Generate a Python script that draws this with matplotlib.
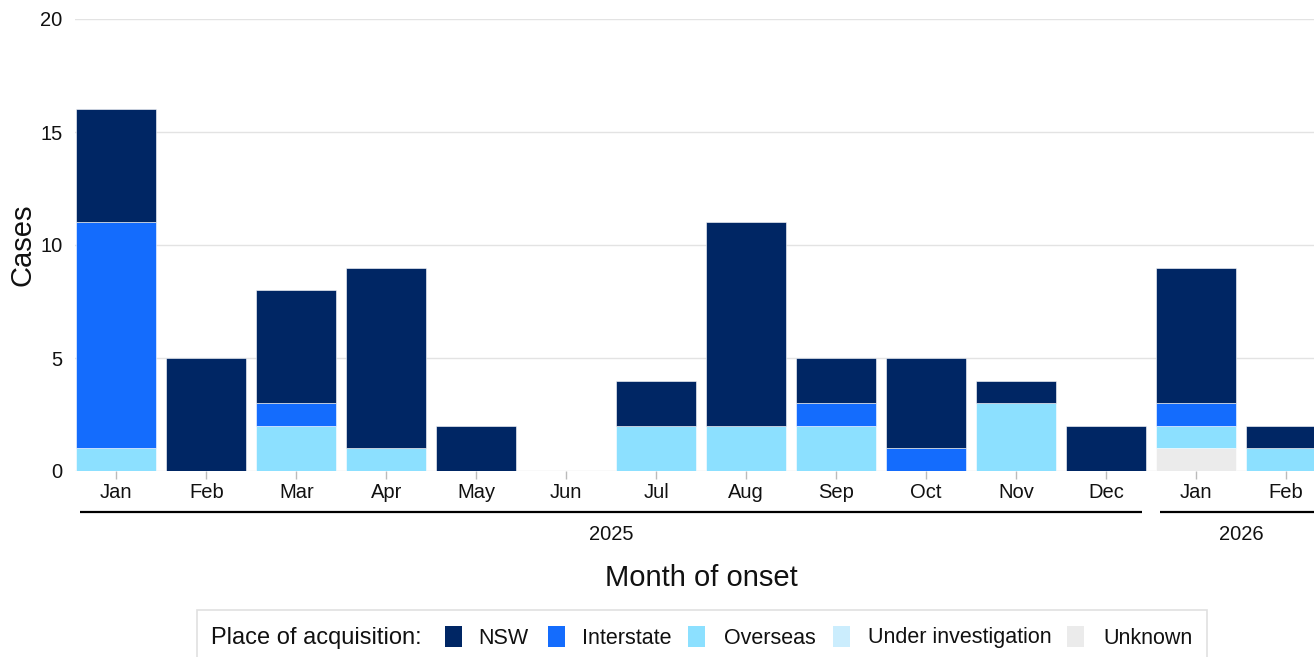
import matplotlib
matplotlib.use("Agg")
import matplotlib.pyplot as plt
from matplotlib.patches import Rectangle
import matplotlib.transforms as mtransforms
import numpy as np

plt.rcParams['font.family'] = ['Liberation Sans', 'DejaVu Sans']

months = ["Jan", "Feb", "Mar", "Apr", "May", "Jun", "Jul", "Aug", "Sep", "Oct", "Nov", "Dec", "Jan", "Feb"]
years = ["2025", "2026"]
year_spans = [(0, 11), (12, 13)]

categories = ["Unknown", "Under investigation", "Overseas", "Interstate", "NSW"]
unknown = [0, 0, 0, 0, 0, 0, 0, 0, 0, 0, 0, 0, 1, 0]
under_inv = [0, 0, 0, 0, 0, 0, 0, 0, 0, 0, 0, 0, 0, 0]
overseas = [1, 0, 2, 1, 0, 0, 2, 2, 2, 0, 3, 0, 1, 1]
interstate = [10, 0, 1, 0, 0, 0, 0, 0, 1, 1, 0, 0, 1, 0]
nsw = [5, 5, 5, 8, 2, 0, 2, 9, 2, 4, 1, 2, 6, 1]

colors = {"NSW": "#002664", "Interstate": "#146cfd", "Overseas": "#8ce0ff",
          "Under investigation": "#cbedfd", "Unknown": "#ebebeb"}

series = {"Unknown": unknown, "Under investigation": under_inv, "Overseas": overseas,
          "Interstate": interstate, "NSW": nsw}

W, H = 1314, 657
fig = plt.figure(figsize=(W / 100, H / 100), dpi=100)
ax = fig.add_axes([75 / W, 1 - 471 / H, 1 - 75 / W, (471 - 19) / H])

x = np.arange(len(months))
bottom = np.zeros(len(months))
for cat in categories:
    vals = np.array(series[cat], dtype=float)
    mask = vals > 0
    if mask.any():
        ax.bar(x[mask], vals[mask], bottom=bottom[mask], width=0.89, color=colors[cat],
               edgecolor="white", linewidth=0.4, zorder=3)
    bottom += vals

ax.set_xlim(-0.46, 13.31)
ax.set_ylim(0, 20)
ax.set_yticks([0, 5, 10, 15, 20])
ax.yaxis.grid(True, color="#e3e3e3", linewidth=1.0, zorder=0)
ax.set_axisbelow(True)
for s in ax.spines.values():
    s.set_visible(False)
ax.tick_params(axis="y", length=0, pad=9, labelsize=14.5, labelcolor="#111111")
ax.set_xticks(x)
ax.set_xticklabels(months)
ax.tick_params(axis="x", length=6, color="#bbbbbb", width=1, pad=3, labelsize=14.5, labelcolor="#111111")

trans = mtransforms.blended_transform_factory(ax.transData, ax.transAxes)
line_y = -41 / 452
lab_y = -63 / 452
for yr, (a, b) in zip(years, year_spans):
    ax.plot([a - 0.4, b + 0.4], [line_y, line_y], color="black", linewidth=1.6,
            transform=trans, clip_on=False, solid_capstyle="butt")
    ax.text((a + b) / 2, lab_y, yr, transform=trans, ha="center", va="center",
            fontsize=14.5, color="#111111")

fig.text(701 / W, 1 - 578 / H, "Month of onset", ha="center", va="center", fontsize=21, color="#111111")
fig.text(22 / W, 1 - 245 / H, "Cases", ha="center", va="center", rotation=90, fontsize=21, color="#111111")

# legend box
fig.patches.append(Rectangle((197 / W, 1 - 665 / H), (1207 - 197) / W, (665 - 610) / H,
                             transform=fig.transFigure, facecolor="white",
                             edgecolor="#e0e0e0", linewidth=1.2))
ly = 1 - 638 / H
fig.text(211 / W, ly, "Place of acquisition:", ha="left", va="center", fontsize=17, color="#111111")
legend_items = [("NSW", 445, 478), ("Interstate", 548, 582), ("Overseas", 688, 724),
                ("Under investigation", 833, 868), ("Unknown", 1067, 1103)]
for name, sx, tx in legend_items:
    fig.patches.append(Rectangle((sx / W, 1 - 647 / H), 17 / W, 21 / H,
                                 transform=fig.transFigure, facecolor=colors[name], edgecolor="none"))
    fig.text(tx / W, ly, name, ha="left", va="center", fontsize=15.5, color="#111111")

fig.savefig("out.png", dpi=100)
